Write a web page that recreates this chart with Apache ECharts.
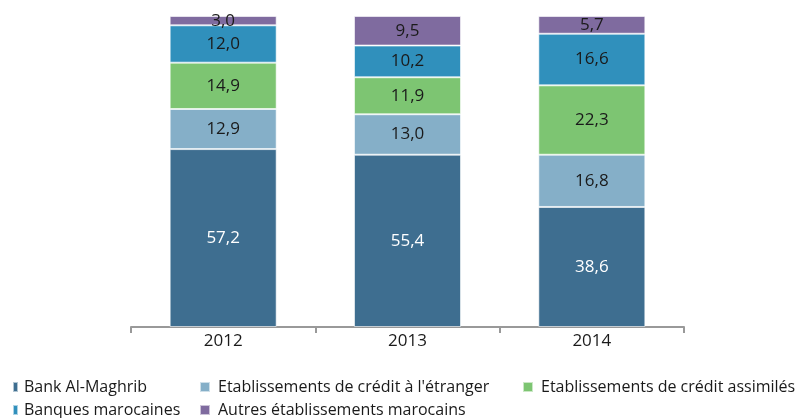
<!DOCTYPE html>
<html>
<head>
<meta charset="utf-8">
<script src="https://cdn.jsdelivr.net/npm/echarts@6/dist/echarts.min.js"></script>
<style>
  html, body { margin: 0; padding: 0; background: #fff; }
  #main { width: 805px; height: 418px; }
</style>
</head>
<body>
<div id="main"></div>
<script>
const years = ["2012", "2013", "2014"];
const bankAlMaghrib = [57.2, 55.4, 38.6];
const etabEtranger = [12.9, 13.0, 16.8];
const etabAssimiles = [14.9, 11.9, 22.3];
const banquesMarocaines = [12.0, 10.2, 16.6];
const autresEtab = [3.0, 9.5, 5.7];

const FONT = "Open Sans";

function fmt(p) {
  return p.value.toFixed(1).replace(".", ",");
}

function serie(name, data, color, labelColor) {
  return {
    name: name,
    type: "bar",
    stack: "total",
    data: data,
    barWidth: 107,
    itemStyle: { color: color, borderColor: "rgba(255,255,255,0.6)", borderWidth: 1 },
    label: {
      show: true,
      position: "inside",
      formatter: fmt,
      color: labelColor,
      fontFamily: FONT,
      fontSize: 17
    }
  };
}

// one legend per item so the columns line up like the original
function legendAt(name, left, top, w, pad) {
  return {
    left: left, top: top,
    itemWidth: w, itemHeight: 10, icon: "rect",
    textStyle: { fontFamily: FONT, fontSize: 16, color: "#1a1a1a", padding: [0, 0, 0, pad] },
    data: [name]
  };
}

var myChart = echarts.init(document.getElementById("main"));
myChart.setOption({
  animation: false,
  grid: { left: 131, right: 121, top: 16, bottom: 91 },
  legend: [
    legendAt("Bank Al-Maghrib", 7, 374, 5, 1),
    legendAt("Etablissements de crédit à l'étranger", 194, 374, 10, 3),
    legendAt("Etablissements de crédit assimilés", 517, 374, 10, 3),
    legendAt("Banques marocaines", 7, 397, 5, 1),
    legendAt("Autres établissements marocains", 194, 397, 10, 3)
  ],
  xAxis: {
    type: "category",
    data: years,
    axisLine: { lineStyle: { color: "#999", width: 2 } },
    axisTick: { show: true, length: 6, lineStyle: { color: "#999", width: 2 } },
    axisLabel: { fontFamily: FONT, fontSize: 17, color: "#1a1a1a", margin: 6 }
  },
  yAxis: { type: "value", min: 0, max: 100, show: false },
  series: [
    serie("Bank Al-Maghrib", bankAlMaghrib, "#3E6E90", "#ffffff"),
    serie("Etablissements de crédit à l'étranger", etabEtranger, "#85AFC8", "#1a1a1a"),
    serie("Etablissements de crédit assimilés", etabAssimiles, "#7DC572", "#1a1a1a"),
    serie("Banques marocaines", banquesMarocaines, "#3090BC", "#1a1a1a"),
    serie("Autres établissements marocains", autresEtab, "#7F6B9F", "#1a1a1a")
  ]
});
</script>
</body>
</html>
